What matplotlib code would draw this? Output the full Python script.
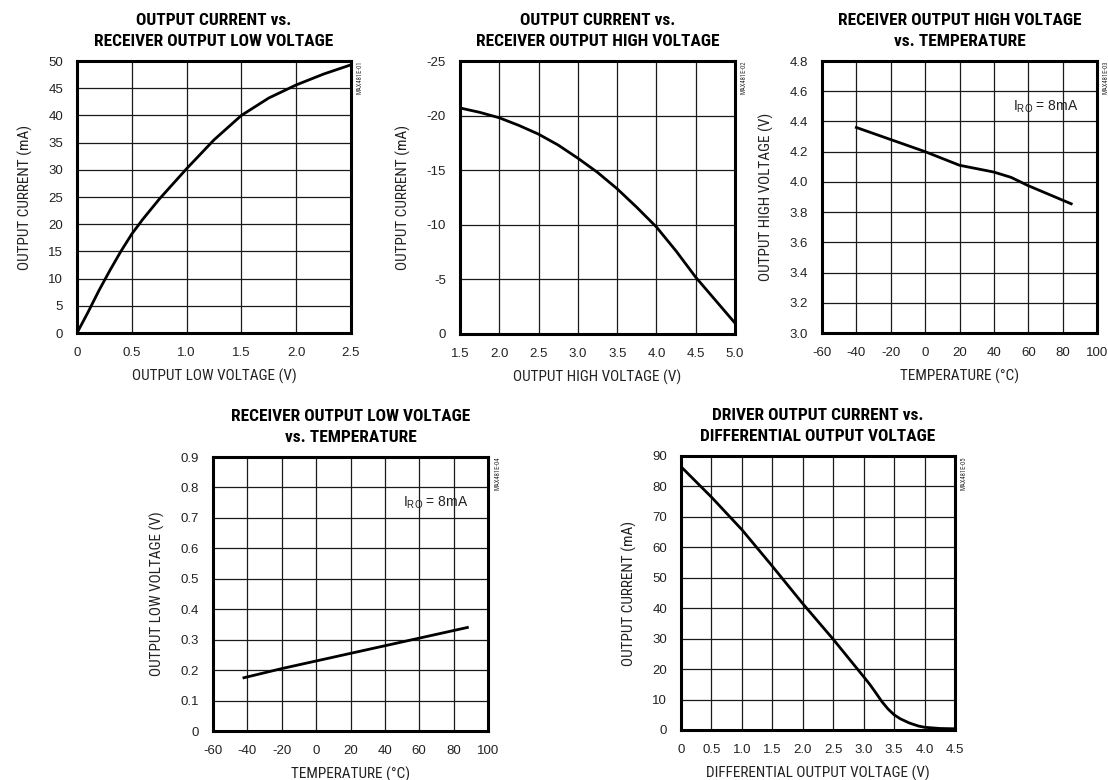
import matplotlib
matplotlib.use("Agg")
import matplotlib.pyplot as plt
from matplotlib import font_manager
from matplotlib.transforms import offset_copy

# ---------------------------------------------------------------- fonts
def pick(*names):
    for n in names:
        try:
            font_manager.findfont(font_manager.FontProperties(family=n),
                                  fallback_to_default=False)
            return n
        except Exception:
            pass
    return "DejaVu Sans"

NARROW = pick("Liberation Sans Narrow", "Roboto Condensed", "Liberation Sans")
SANS = pick("Liberation Sans", "Roboto", "DejaVu Sans")

plt.rcParams["font.family"] = [SANS, "DejaVu Sans"]
plt.rcParams["mathtext.fontset"] = "custom"
plt.rcParams["mathtext.rm"] = SANS

# ---------------------------------------------------------------- data
# 1) output current vs receiver output low voltage
vol_low = [0, 0.1, 0.2, 0.3, 0.4, 0.5, 0.6, 0.75, 1.0, 1.25, 1.5, 1.75, 2.0, 2.25, 2.5]
cur_low = [0, 3.8, 7.8, 11.5, 15.0, 18.2, 20.9, 24.6, 30.2, 35.5, 40.0, 43.2, 45.6,
           47.6, 49.3]

# 2) output current vs receiver output high voltage
vol_high = [1.5, 1.75, 2.0, 2.25, 2.5, 2.75, 3.0, 3.25, 3.5, 3.75, 4.0, 4.25, 4.5, 4.75, 5.0]
cur_high = [-20.7, -20.3, -19.8, -19.1, -18.3, -17.3, -16.1, -14.8, -13.3, -11.6,
            -9.8, -7.6, -5.2, -3.1, -1.0]

# 3) receiver output high voltage vs temperature
temp_voh = [-40, -20, 0, 20, 40, 50, 60, 85]
voh = [4.36, 4.28, 4.20, 4.11, 4.065, 4.03, 3.975, 3.855]

# 4) receiver output low voltage vs temperature
temp_vol = [-42, -20, 0, 20, 40, 60, 88]
vol = [0.175, 0.205, 0.23, 0.255, 0.28, 0.305, 0.34]

# 5) driver output current vs differential output voltage
vdiff = [0, 0.5, 1.0, 1.5, 2.0, 2.5, 3.0, 3.1, 3.2, 3.3, 3.4, 3.5, 3.6, 3.75,
         3.9, 4.0, 4.25, 4.5]
idrv = [86.5, 76.5, 65.8, 53.8, 41.5, 29.8, 17.5, 15.0, 12.2, 9.3, 6.9, 5.0, 3.7,
        2.3, 1.3, 0.9, 0.5, 0.4]

temp_ticks = [-60, -40, -20, 0, 20, 40, 60, 80, 100]

# ---------------------------------------------------------------- figure
W, H = 1108, 780
fig = plt.figure(figsize=(W / 100, H / 100), dpi=100)


def panel(box, title, tag, xlabel, ylabel, xticks, xlabels, yticks, ylabels,
          xlim, ylim):
    left, top, right, bottom = box
    ax = fig.add_axes([left / W, 1 - bottom / H, (right - left) / W,
                       (bottom - top) / H])
    ax.set_xlim(*xlim)
    ax.set_ylim(*ylim)
    ax.set_xticks(xticks)
    ax.set_xticklabels(xlabels)
    ax.set_yticks(yticks)
    ax.set_yticklabels(ylabels)
    ax.tick_params(length=0, labelsize=9.5, labelcolor="#222222")
    ax.tick_params(axis="x", pad=10)
    ax.tick_params(axis="y", pad=10)
    ax.grid(True, color="#1a1a1a", lw=0.9)
    ax.set_axisbelow(True)
    for s in ax.spines.values():
        s.set_linewidth(2.2)
        s.set_color("black")
        s.set_zorder(5)
    ax.set_xlabel(xlabel, family=[NARROW, "DejaVu Sans"], fontsize=11,
                  color="#222222", labelpad=7)
    ax.set_ylabel(ylabel, family=[NARROW, "DejaVu Sans"], fontsize=11,
                  color="#222222", labelpad=11)
    ax.set_title(title, family=[NARROW, "DejaVu Sans"], weight="bold",
                 fontsize=12.5, linespacing=1.45, pad=11)
    # figure code printed sideways just right of the frame
    ax.text(1.0, 1.0, tag, rotation=90, fontsize=4.8, color="#333333",
            family=[NARROW, "DejaVu Sans"], ha="left", va="top",
            transform=offset_copy(ax.transAxes, fig=fig, x=6, y=0,
                                  units="dots"))
    return ax


def fmt(vals, nd):
    return [("0" if v == 0 else f"{v:.{nd}f}") for v in vals]


# panel 1
x1 = [0, 0.5, 1.0, 1.5, 2.0, 2.5]
y1 = list(range(0, 55, 5))
ax1 = panel((77, 61, 351, 333), "OUTPUT CURRENT vs.\nRECEIVER OUTPUT LOW VOLTAGE",
            "MAX481E-01", "OUTPUT LOW VOLTAGE (V)", "OUTPUT CURRENT (mA)",
            x1, fmt(x1, 1), y1, [str(v) for v in y1], (0, 2.5), (0, 50))
ax1.plot(vol_low, cur_low, color="black", lw=2.0, zorder=4)

# panel 2
x2 = [1.5, 2.0, 2.5, 3.0, 3.5, 4.0, 4.5, 5.0]
y2 = [0, -5, -10, -15, -20, -25]
ax2 = panel((460, 61, 735, 334), "OUTPUT CURRENT vs.\nRECEIVER OUTPUT HIGH VOLTAGE",
            "MAX481E-02", "OUTPUT HIGH VOLTAGE (V)", "OUTPUT CURRENT (mA)",
            x2, fmt(x2, 1), y2, [str(v) for v in y2], (1.5, 5.0), (0, -25))
ax2.plot(vol_high, cur_high, color="black", lw=2.0, zorder=4)

# panel 3
y3 = [3.0, 3.2, 3.4, 3.6, 3.8, 4.0, 4.2, 4.4, 4.6, 4.8]
ax3 = panel((822, 61, 1097, 333), "RECEIVER OUTPUT HIGH VOLTAGE\nvs. TEMPERATURE",
            "MAX481E-03", "TEMPERATURE (°C)", "OUTPUT HIGH VOLTAGE (V)",
            temp_ticks, [str(v) for v in temp_ticks], y3, fmt(y3, 1),
            (-60, 100), (3.0, 4.8))
ax3.plot(temp_voh, voh, color="black", lw=2.0, zorder=4)
ax3.text(51, 4.5, r"I$_\mathregular{RO}$ = 8mA", fontsize=10, color="#222222",
         ha="left", va="center", zorder=6)

# panel 4
y4 = [0, 0.1, 0.2, 0.3, 0.4, 0.5, 0.6, 0.7, 0.8, 0.9]
ax4 = panel((213, 457, 488, 731), "RECEIVER OUTPUT LOW VOLTAGE\nvs. TEMPERATURE",
            "MAX481E-04", "TEMPERATURE (°C)", "OUTPUT LOW VOLTAGE (V)",
            temp_ticks, [str(v) for v in temp_ticks], y4, fmt(y4, 1),
            (-60, 100), (0, 0.9))
ax4.plot(temp_vol, vol, color="black", lw=2.0, zorder=4)
ax4.text(50.5, 0.75, r"I$_\mathregular{RO}$ = 8mA", fontsize=10, color="#222222",
         ha="left", va="center", zorder=6)

# panel 5
x5 = [0, 0.5, 1.0, 1.5, 2.0, 2.5, 3.0, 3.5, 4.0, 4.5]
y5 = list(range(0, 100, 10))
ax5 = panel((681, 456, 955, 730), "DRIVER OUTPUT CURRENT vs.\nDIFFERENTIAL OUTPUT VOLTAGE",
            "MAX481E-05", "DIFFERENTIAL OUTPUT VOLTAGE (V)", "OUTPUT CURRENT (mA)",
            x5, fmt(x5, 1), y5, [str(v) for v in y5], (0, 4.5), (0, 90))
ax5.plot(vdiff, idrv, color="black", lw=2.0, zorder=4)

fig.savefig("out.png", dpi=100, facecolor="white")
